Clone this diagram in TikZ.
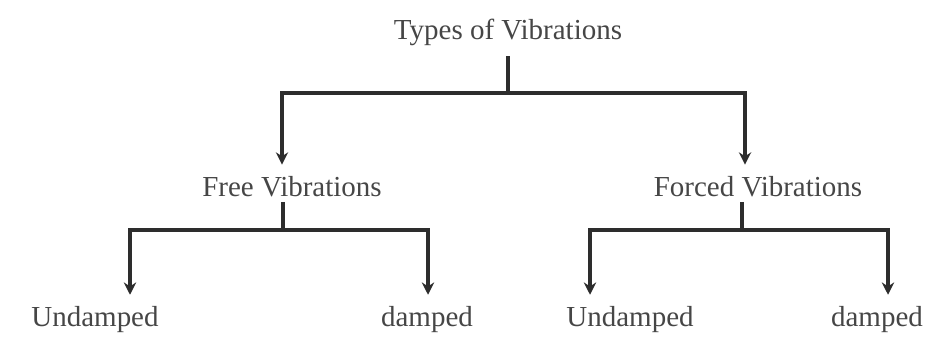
\documentclass[tikz,border=0pt]{standalone}
\usepackage{fontspec}
\setmainfont{Liberation Serif}
\usetikzlibrary{arrows.meta}
\definecolor{inkgray}{RGB}{45, 45, 45}
\definecolor{textgray}{RGB}{70, 70, 70}

\tikzset{
  label/.style={text=textgray, inner sep=1pt, font=\fontsize{16.5}{19}\selectfont},
  link/.style={color=inkgray, line width=2pt},
  arrow/.style={link, -{Stealth[length=7pt,width=7pt]}}
}

\begin{document}
\begin{tikzpicture}
            \useasboundingbox                                              ( 0.00, 0.00) rectangle (18.76,-6.74);
            \node[label] (types)     at (10.16,-0.64) {Types of Vibrations};
            \node[label] (free)      at ( 5.84,-3.74) {Free Vibrations};
            \node[label] (forced)    at (15.16,-3.74) {Forced Vibrations};
            \node[label] (freeund)   at ( 1.90,-6.40) {Undamped};
            \node[label] (freedam)   at ( 8.54,-6.40) {damped};
            \node[label] (forcedund) at (12.60,-6.40) {Undamped};
            \node[label] (forceddam) at (17.54,-6.40) {damped};
            % branching points
            \coordinate (jtypes)  at (10.16,-1.86);
            \coordinate (jfree)   at ( 5.66,-4.60);
            \coordinate (jforced) at (14.84,-4.60);
            \draw[link]  ([yshift=-0.18cm]types.south -| jtypes)  -- (jtypes);
            \draw[arrow] (jtypes) -| ([xshift=-0.20cm, yshift=0.20cm]free.north);
            \draw[arrow] (jtypes) -| ([xshift=-0.26cm, yshift=0.20cm]forced.north);
            \draw[link]  ([yshift=-0.05cm]free.south -| jfree)     -- (jfree);
            \draw[arrow] (jfree) -| ([xshift=0.70cm, yshift=0.20cm]freeund.north);
            \draw[arrow] (jfree) -| ([xshift=0.02cm, yshift=0.20cm]freedam.north);
            \draw[link]  ([yshift=-0.05cm]forced.south -| jforced) -- (jforced);
            \draw[arrow] (jforced) -| ([xshift=-0.80cm, yshift=0.20cm]forcedund.north);
            \draw[arrow] (jforced) -| ([xshift=0.22cm, yshift=0.20cm]forceddam.north);
\end{tikzpicture}
\end{document}
